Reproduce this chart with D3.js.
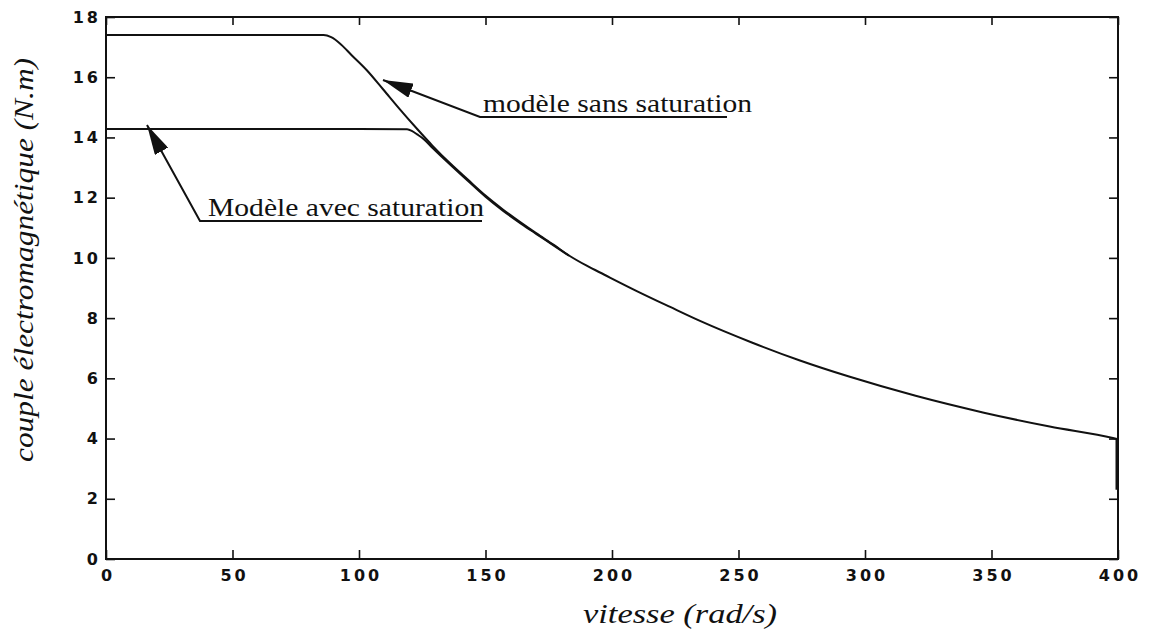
<!DOCTYPE html>
<html>
<head>
<meta charset="utf-8">
<script src="https://cdn.jsdelivr.net/npm/d3@7"></script>
<style>
  body { margin: 0; background: #fff; }
  .tick text { font-family: "DejaVu Sans", sans-serif; font-weight: bold; font-size: 16px; letter-spacing: 3px; fill: #111; }
  .tick line { stroke: #111; stroke-width: 1.6; }
  .label { font-family: "Liberation Serif", "Times New Roman", serif; font-style: italic; fill: #111; }
  .note { font-family: "Liberation Serif", "Times New Roman", serif; fill: #111; }
</style>
</head>
<body>
<svg width="1153" height="644"></svg>
<script>
// speed (rad/s) and torque (N.m)
var speedSans = [0, 20, 40, 60, 80, 86, 89, 93, 97, 103, 109.5, 116, 123, 129, 136, 143, 150, 157, 164, 170, 177, 183, 190, 197, 210, 223, 235, 255, 274, 294, 320, 347, 373, 398, 400];
var torqueSans = [17.4, 17.4, 17.4, 17.4, 17.4, 17.4, 17.33, 17.08, 16.74, 16.24, 15.6, 14.95, 14.28, 13.73, 13.14, 12.6, 12.07, 11.6, 11.17, 10.82, 10.43, 10.08, 9.74, 9.44, 8.89, 8.37, 7.9, 7.2, 6.6, 6.05, 5.42, 4.86, 4.4, 4.02, 3.98];
// the last sample falls straight down at 400 rad/s
var speedDrop = [400, 400];
var torqueDrop = [3.98, 2.3];

var speedAvec = [0, 20, 40, 60, 80, 100, 119, 121, 123, 125.5, 129, 136, 143, 150, 157, 164, 170, 177, 183];
var torqueAvec = [14.28, 14.28, 14.28, 14.28, 14.28, 14.28, 14.27, 14.21, 14.1, 13.95, 13.66, 13.1, 12.56, 12.03, 11.56, 11.14, 10.8, 10.41, 10.07];

var xTicks = [0, 50, 100, 150, 200, 250, 300, 350, 400];
var yTicks = [0, 2, 4, 6, 8, 10, 12, 14, 16, 18];

var svg = d3.select("svg");

var x = d3.scaleLinear().domain([0, 400]).range([106, 1118]);
var y = d3.scaleLinear().domain([0, 18]).range([559, 17]);

// axes, ticks pointing inward on all four sides
var bottom = svg.append("g").attr("transform", "translate(0,559)")
    .call(d3.axisBottom(x).tickValues(xTicks).tickSizeInner(-9).tickSizeOuter(0).tickPadding(11));
bottom.selectAll("text").attr("dx", "1.5px");
svg.append("g").attr("transform", "translate(0,17)")
    .call(d3.axisTop(x).tickValues(xTicks).tickSizeInner(-8).tickSizeOuter(0).tickFormat(""));
svg.append("g").attr("transform", "translate(106,0)")
    .call(d3.axisLeft(y).tickValues(yTicks).tickSizeInner(-9).tickSizeOuter(0).tickPadding(5));
svg.append("g").attr("transform", "translate(1118,0)")
    .call(d3.axisRight(y).tickValues(yTicks).tickSizeInner(-9).tickSizeOuter(0).tickFormat(""));
svg.selectAll(".domain").remove();

svg.append("rect")
    .attr("x", x(0)).attr("y", y(18))
    .attr("width", x(400) - x(0)).attr("height", y(0) - y(18))
    .attr("fill", "none").attr("stroke", "#111").attr("stroke-width", 2);

// curves
var line = d3.line()
    .curve(d3.curveMonotoneX)
    .x(function(d) { return x(d[0]); })
    .y(function(d) { return y(d[1]); });

svg.append("path")
    .datum(d3.zip(speedSans, torqueSans))
    .attr("d", line)
    .attr("fill", "none").attr("stroke", "#111").attr("stroke-width", 2);

svg.append("path")
    .datum(d3.zip(speedAvec, torqueAvec))
    .attr("d", line)
    .attr("fill", "none").attr("stroke", "#111").attr("stroke-width", 2);

svg.append("path")
    .datum(d3.zip(speedDrop, torqueDrop))
    .attr("d", d3.line().x(function(d) { return x(d[0]) - 1; }).y(function(d) { return y(d[1]); }))
    .attr("fill", "none").attr("stroke", "#111").attr("stroke-width", 3);

// annotations with arrows
svg.append("defs").append("marker")
    .attr("id", "head")
    .attr("viewBox", "0 0 20 10")
    .attr("refX", 20).attr("refY", 5)
    .attr("markerUnits", "userSpaceOnUse")
    .attr("markerWidth", 30).attr("markerHeight", 15)
    .attr("orient", "auto")
    .append("path").attr("d", "M0,0 L20,5 L0,10 Z").attr("fill", "#111");

function note(txt, x0, x1, yl, tipX, tipY, tx0, tx1) {
    svg.append("polyline")
        .attr("points", x1 + "," + yl + " " + x0 + "," + yl + " " + tipX + "," + tipY)
        .attr("fill", "none").attr("stroke", "#111").attr("stroke-width", 2)
        .attr("marker-end", "url(#head)");
    svg.append("text")
        .attr("class", "note")
        .attr("x", tx0).attr("y", yl - 5)
        .attr("font-size", 25)
        .attr("textLength", tx1 - tx0).attr("lengthAdjust", "spacingAndGlyphs")
        .text(txt);
}
note("modèle sans saturation", 480, 727, 117, 383, 80, 483, 752);
note("Modèle avec saturation", 200, 482, 221, 147, 125, 208, 484);

// axis labels
svg.append("text")
    .attr("class", "label")
    .attr("x", 583).attr("y", 623)
    .attr("font-size", 28)
    .attr("textLength", 194).attr("lengthAdjust", "spacingAndGlyphs")
    .text("vitesse (rad/s)");

svg.append("text")
    .attr("class", "label")
    .attr("transform", "translate(33,260) rotate(-90)")
    .attr("text-anchor", "middle")
    .attr("font-size", 27)
    .attr("textLength", 404).attr("lengthAdjust", "spacingAndGlyphs")
    .text("couple électromagnétique (N.m)");
</script>
</body>
</html>
